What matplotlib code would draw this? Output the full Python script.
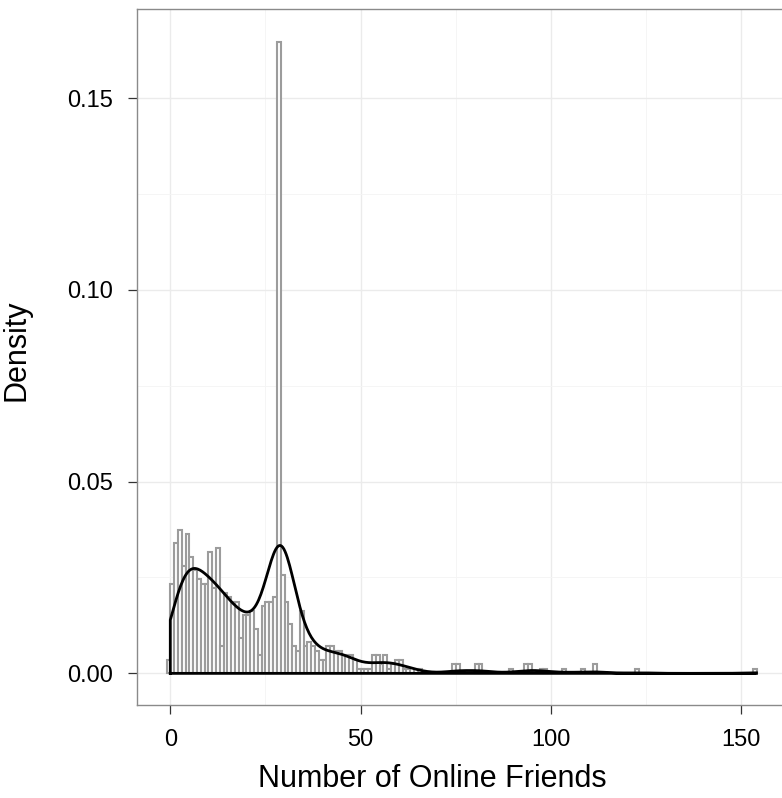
import numpy as np
import matplotlib
matplotlib.use("Agg")
import matplotlib.pyplot as plt
from matplotlib.ticker import MultipleLocator, FormatStrFormatter

plt.rcParams['font.family'] = ['Liberation Sans', 'DejaVu Sans']

# number of online friends (integer values) and how many people had each value
friends = [0, 1, 2, 3, 4, 5, 6, 7, 8, 9,
           10, 11, 12, 13, 14, 15, 16, 17, 18, 19,
           20, 21, 22, 23, 24, 25, 26, 27, 28, 29,
           30, 31, 32, 33, 34, 35, 36, 37, 38, 39,
           40, 41, 42, 43, 44, 45, 46, 47, 48, 49,
           50, 51, 52, 53, 54, 55, 56, 57, 58, 59,
           60, 61, 62, 63, 65, 66,
           75, 76, 81, 82, 90, 94, 95, 98, 99, 104,
           109, 112, 123, 154]
counts = [3, 20, 29, 32, 24, 31, 26, 23, 21, 20,
          20, 27, 19, 28, 6, 18, 17, 16, 16, 8,
          13, 13, 14, 10, 4, 15, 16, 16, 17, 141,
          22, 16, 11, 6, 5, 14, 6, 7, 6, 5,
          3, 3, 6, 6, 5, 5, 4, 4, 4, 3,
          1, 1, 1, 1, 4, 4, 2, 4, 1, 2,
          3, 3, 1, 1, 1, 1,
          2, 2, 2, 2, 1, 2, 2, 1, 1, 1,
          1, 2, 1, 1]

friends = np.array(friends, dtype=float)
counts = np.array(counts)
n = counts.sum()
hist_density = counts / n  # binwidth 1

# gaussian kde like R's density() with bw.nrd0
data = np.repeat(friends, counts)
iqr = np.percentile(data, 75) - np.percentile(data, 25)
bw = 0.9 * min(data.std(ddof=1), iqr / 1.34) * len(data) ** (-0.2)
grid = np.linspace(data.min(), data.max(), 512)
z = (grid[:, None] - friends[None, :]) / bw
kde = (np.exp(-0.5 * z ** 2) * counts).sum(axis=1) / (n * bw * np.sqrt(2 * np.pi))

fig = plt.figure(figsize=(7.82, 7.98), dpi=100)
ax = fig.add_axes([137 / 782, 93 / 798, 649 / 782, 696 / 798])

ax.bar(friends - 0.5, hist_density, width=1.0, facecolor='white',
       edgecolor='#9c9c9c', linewidth=1.5, zorder=2)

xs = np.concatenate([[grid[0]], grid, [grid[-1]], [grid[0]]])
ys = np.concatenate([[0], kde, [0], [0]])
ax.plot(xs, ys, color='black', linewidth=2.0, zorder=3, solid_joinstyle='miter')

ax.set_xlim(-8.75, 161.75)
ax.set_ylim(-0.00825, 0.17325)

ax.xaxis.set_major_locator(MultipleLocator(50))
ax.xaxis.set_minor_locator(MultipleLocator(25))
ax.yaxis.set_major_locator(MultipleLocator(0.05))
ax.yaxis.set_minor_locator(MultipleLocator(0.025))
ax.yaxis.set_major_formatter(FormatStrFormatter('%.2f'))

ax.grid(which='major', color='#ebebeb', linewidth=1.0, zorder=0)
ax.grid(which='minor', color='#f4f4f4', linewidth=0.6, zorder=0)
ax.set_axisbelow(True)

for side in ['left', 'top', 'bottom', 'right']:
    ax.spines[side].set_color('#8a8a8a')
    ax.spines[side].set_linewidth(1.0)

ax.tick_params(which='major', direction='out', length=6.5, width=0.9,
               color='#333333', labelsize=17, labelcolor='black', pad=11)
ax.tick_params(which='minor', length=0)

ax.set_xlabel('Number of Online Friends', fontsize=22)
ax.set_ylabel('Density', fontsize=22)
ax.xaxis.set_label_coords(0.455, -0.085)
ax.yaxis.set_label_coords(-0.163, 0.51)

fig.savefig('out.png', dpi=100)
